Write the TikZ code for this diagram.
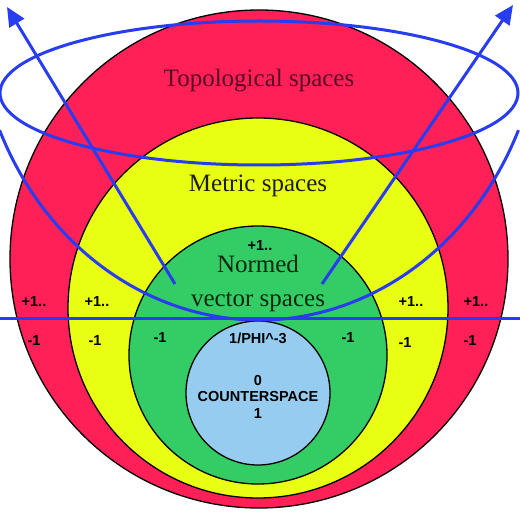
\documentclass[tikz,border=0pt]{standalone}
\usepackage{fontspec}
\setmainfont{Liberation Serif}
\newfontfamily\tagfont{Liberation Sans}
\usetikzlibrary{arrows.meta,positioning,calc}
\definecolor{topored}{RGB}{255,32,88}
\definecolor{metricyel}{RGB}{232,255,20}
\definecolor{normgreen}{RGB}{52,204,100}
\definecolor{countblue}{RGB}{150,204,240}
\definecolor{flowblue}{RGB}{40,60,240}
\definecolor{topotext}{RGB}{90,10,35}
\definecolor{metrictext}{RGB}{30,30,0}
\definecolor{normtext}{RGB}{10,40,15}
\begin{document}
\begin{tikzpicture}[x=1pt,y=-1pt,
		title/.style={font=\fontsize{25}{28}\selectfont, anchor=base, inner sep=0pt},
		tag/.style={font=\tagfont\bfseries\fontsize{14.5}{16}\selectfont, anchor=base, inner sep=0pt},
		ring/.style={draw=black, line width=1.3pt},
		flow/.style={draw=flowblue, line width=3pt},
		flowarrow/.style={flow, -{Triangle[length=19pt,width=17pt]}}]
		\useasboundingbox (0,0) rectangle (520,513);
		\fill[white] (0,0) rectangle (520,513);
		% nested spaces
		\filldraw[ring, fill=topored] (259,259) circle[radius=249pt];
		\filldraw[ring, fill=metricyel] (258,308) circle[radius=190pt];
		\filldraw[ring, fill=normgreen] (258,355) circle[radius=129pt];
		\filldraw[ring, fill=countblue] (258,393) circle[radius=72pt];
		% labels
		\node[title, text=topotext] (topo) at (259,87) {Topological spaces};
		\node[title, text=metrictext] (metric) at (258,192) {Metric spaces};
		\node[title, text=normtext] (normed) at (258,273) {Normed};
		\node[title, text=normtext] (vector) at (258,307) {vector spaces};
		\node[tag] (pgreen) at (260,251) {+1..};
		\node[tag] (predl) at (34,307) {+1..};
		\node[tag] (pyell) at (97,307) {+1..};
		\node[tag] (pyelr) at (411,307) {+1..};
		\node[tag] (predr) at (476,307) {+1..};
		\node[tag] (mredl) at (34,346) {-1};
		\node[tag] (myell) at (95,346) {-1};
		\node[tag] (mgrnl) at (160,343) {-1};
		\node[tag] (mgrnr) at (348,343) {-1};
		\node[tag] (myelr) at (405,348) {-1};
		\node[tag] (mredr) at (470,345) {-1};
		\node[tag] (phi) at (258,344) {1/PHI\^{}-3};
		\node[tag] (zero) at (258,385) {0};
		\node[tag] (counter) at (258,402) {COUNTERSPACE};
		\node[tag] (one) at (258,418) {1};
		% rotation and flow
		\begin{scope}
			\clip (0,0) rectangle (520,513);
			\draw[flow] (259,93) ellipse[x radius=259pt, y radius=72pt];
			\draw[flow] ([shift={(204:284pt and 320pt)}]259,0) arc[start angle=204, end angle=336, x radius=284pt, y radius=320pt];
			\draw[flow] (0,319) -- (520,319);
			\coordinate (lfoot) at (175,284);
			\coordinate (ltip) at (7,7);
			\coordinate (rfoot) at (322,284);
			\coordinate (rtip) at (513,5);
			\draw[flowarrow] (lfoot) -- (ltip);
			\draw[flowarrow] (rfoot) -- (rtip);
		\end{scope}
	\end{tikzpicture}
\end{document}
